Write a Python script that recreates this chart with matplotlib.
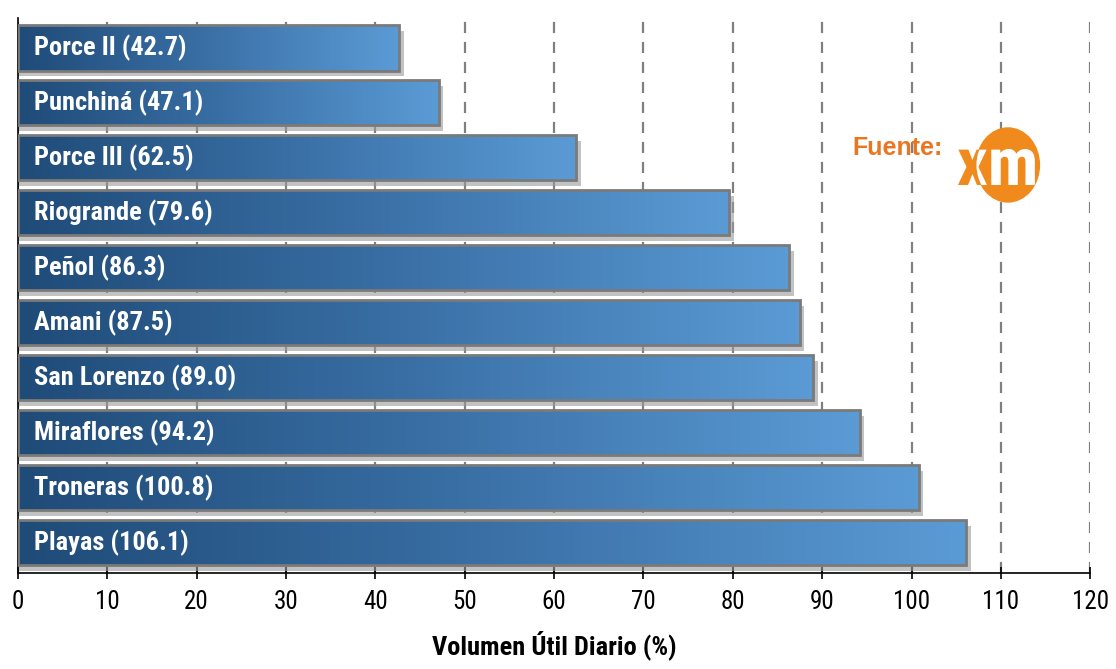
import numpy as np
import matplotlib.pyplot as plt
from matplotlib.colors import LinearSegmentedColormap
from matplotlib.patches import Ellipse, PathPatch
from matplotlib.textpath import TextPath
from matplotlib.font_manager import FontProperties
from matplotlib.transforms import Affine2D

# Data (top to bottom)
embalses = ["Porce II", "Punchiná", "Porce III", "Riogrande", "Peñol",
            "Amani", "San Lorenzo", "Miraflores", "Troneras", "Playas"]
volumen = [42.7, 47.1, 62.5, 79.6, 86.3, 87.5, 89.0, 94.2, 100.8, 106.1]
xticks = list(range(0, 121, 10))

plt.rcParams['font.family'] = ['Roboto Condensed', 'Liberation Sans', 'DejaVu Sans']

fig = plt.figure(figsize=(11.16, 6.69), dpi=100)
ax = fig.add_axes([0.016, 0.1435, 0.961, 0.83])

cmap = LinearSegmentedColormap.from_list("bar", ["#1f4b78", "#3a70a6", "#5b9bd5"])
grad = np.linspace(0, 1, 256).reshape(1, -1)
h = 0.82

for i, (name, v) in enumerate(zip(embalses, volumen)):
    # sombra
    ax.barh(i + 0.1, v + 0.5, height=h, color="#9a9a9a", alpha=0.6, zorder=2)
    bar = ax.barh(i, v, height=h, color="none", edgecolor="#7a7a7a", linewidth=2, zorder=4)[0]
    im = ax.imshow(grad, extent=[0, v, i + h / 2, i - h / 2], cmap=cmap,
                   aspect='auto', zorder=3, interpolation='bicubic')
    im.set_clip_path(bar)
    ax.text(1.8, i, f"{name} ({v:.1f})", color="white", fontsize=19,
            fontweight="bold", va="center", ha="left", zorder=5)

ax.set_xlim(0, 120)
ax.set_ylim(len(embalses) - 0.45, -0.55)
ax.set_xticks(xticks)
ax.set_xticklabels([str(t) for t in xticks], fontsize=18)
ax.set_yticks([])
ax.xaxis.grid(True, linestyle=(0, (5, 4)), color="#808080", linewidth=1.6, zorder=0)
ax.set_axisbelow(True)
for s in ["top", "right"]:
    ax.spines[s].set_visible(False)
ax.spines["left"].set_linewidth(1.2)
ax.spines["bottom"].set_linewidth(1.2)
ax.tick_params(axis="x", length=8, width=1.2, direction="inout", pad=8)
ax.set_xlabel("Volumen Útil Diario (%)", fontsize=19, fontweight="bold", labelpad=12)

# Fuente: logo xm
fig.text(0.804, 0.779, "Fuente:", color="#e87722", fontsize=18, fontweight="bold",
         ha="center", va="center", family=['Liberation Sans', 'DejaVu Sans'])

lax = fig.add_axes([0.8557, 0.6936, 0.0806, 0.1196])
lax.set_xlim(0, 90)
lax.set_ylim(0, 80)
lax.axis("off")
logo = Ellipse((53, 40), 63, 74, color="#f08a1c", zorder=1)
lax.add_patch(logo)
tp = TextPath((0, 0), "xm", size=10, prop=FontProperties(family="Roboto Condensed", weight="bold"))
ext = tp.get_extents()
sx = (80 - 3) / ext.width
sy = (56 - 20) / ext.height
tf = Affine2D().translate(-ext.x0, -ext.y0).scale(sx, sy).translate(3, 20)
tp = tf.transform_path(tp)
lax.add_patch(PathPatch(tp, color="#f08a1c", lw=0, zorder=2))
white = PathPatch(tp, color="white", lw=0, zorder=3)
lax.add_patch(white)
white.set_clip_path(logo)

fig.savefig("out.png", dpi=100)
